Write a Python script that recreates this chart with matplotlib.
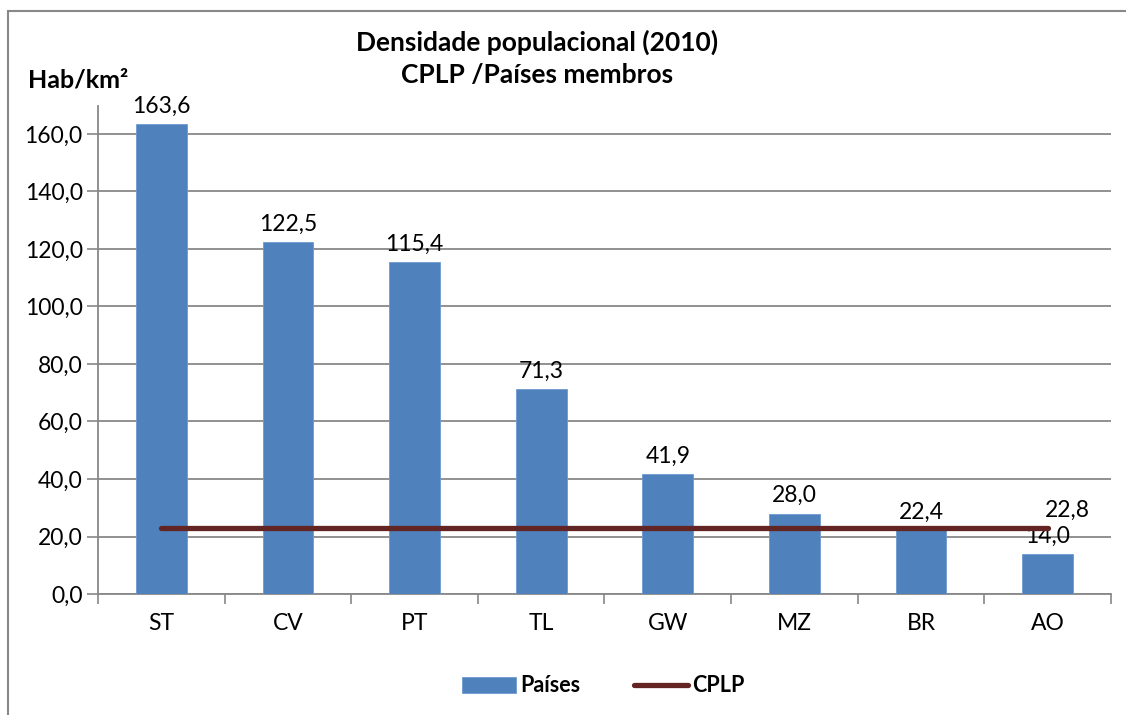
import numpy as np
import matplotlib.pyplot as plt
from matplotlib.patches import Rectangle

plt.rcParams['font.family'] = ['Lato', 'DejaVu Sans']

# --- data ---
paises = ['ST', 'CV', 'PT', 'TL', 'GW', 'MZ', 'BR', 'AO']
densidade = [163.6, 122.5, 115.4, 71.3, 41.9, 28.0, 22.4, 14.0]
cplp = [22.8] * len(paises)

fig = plt.figure(figsize=(11.26, 7.15), dpi=100)
ax = fig.add_axes([0.087, 0.1692, 0.8997, 0.6825])

# outer chart border (runs off the right and bottom of the picture)
fig.patches.append(Rectangle((8 / 1126, -0.05), 1.2, 1 - 11 / 715 + 0.05,
                             transform=fig.transFigure, fill=False,
                             edgecolor='#888888', linewidth=1.5))

x = np.arange(len(paises))
bars = ax.bar(x, densidade, width=0.4, color='#4F81BD', edgecolor='#6E9BD1',
              linewidth=0.6, zorder=3, label='Países')
line, = ax.plot(x, cplp, color='#632523', linewidth=3.8, solid_capstyle='round',
                zorder=4, label='CPLP')

# data labels
for xi, v in zip(x, densidade):
    ax.text(xi, v + 2.5, f'{v:.1f}'.replace('.', ','), ha='center', va='bottom',
            fontsize=16.5)
ax.text(x[-1] - 0.02, cplp[-1] + 2.5, f'{cplp[-1]:.1f}'.replace('.', ','),
        ha='left', va='bottom', fontsize=16.5)

ax.set_xlim(-0.5, len(paises) - 0.5)
ax.set_ylim(0, 169.7)
ax.set_yticks(np.arange(0, 161, 20))
ax.set_yticklabels([f'{t:.1f}'.replace('.', ',') for t in np.arange(0, 161, 20)],
                   fontsize=16.5)
ax.set_xticks(x)
ax.set_xticklabels(paises, fontsize=16.5)
ax.set_xticks(np.arange(-0.5, len(paises)), minor=True)
ax.tick_params(axis='x', which='major', length=0, pad=14)
ax.tick_params(axis='x', which='minor', length=7, color='#888888', width=1.2)
ax.tick_params(axis='y', length=8, color='#888888', width=1.2, pad=3)

ax.grid(axis='y', color='#888888', linewidth=1.3, zorder=0)
for s in ['top', 'right']:
    ax.spines[s].set_visible(False)
for s in ['left', 'bottom']:
    ax.spines[s].set_color('#888888')
    ax.spines[s].set_linewidth(1.3)

fig.text(537 / 1126, 1 - 42 / 715, 'Densidade populacional (2010)',
         ha='center', va='center', fontsize=19, fontweight='bold')
fig.text(537 / 1126, 1 - 75 / 715, 'CPLP /Países membros',
         ha='center', va='center', fontsize=19, fontweight='bold')
fig.text(28 / 1126, 1 - 80 / 715, 'Hab/km²', ha='left', va='center',
         fontsize=18, fontweight='bold')

leg = fig.legend([bars, line], ['Países', 'CPLP'], loc='center',
                 bbox_to_anchor=(603 / 1126, 1 - 686 / 715), ncol=2,
                 frameon=False, prop={'weight': 'bold', 'size': 15.5},
                 handlelength=2.5, handletextpad=0.2, columnspacing=2.5)

fig.savefig('out.png', dpi=100)
